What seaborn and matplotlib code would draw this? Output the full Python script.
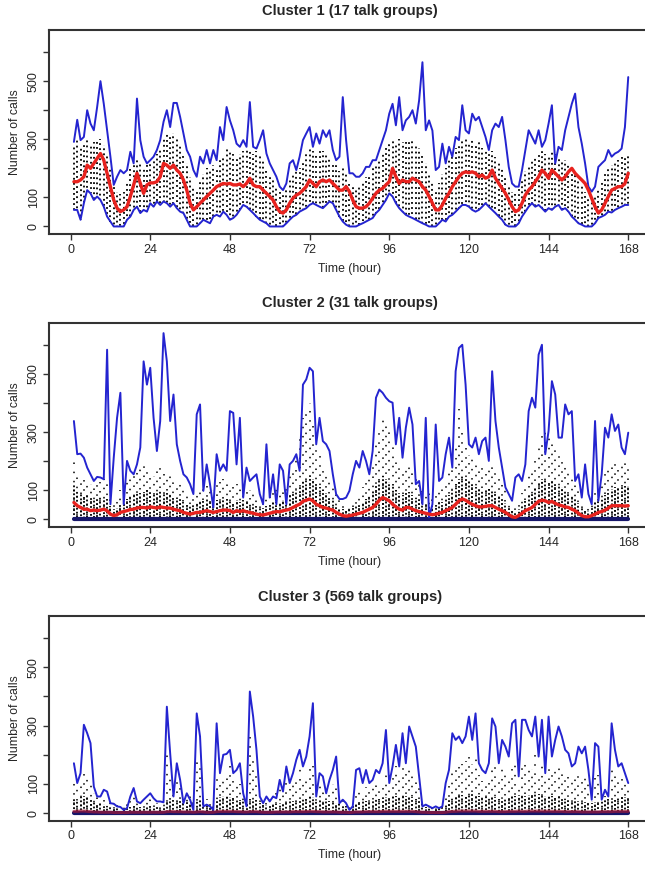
import numpy as np
import pandas as pd
import seaborn as sns
import matplotlib.pyplot as plt

# hours 1..168
hours = np.arange(1, 169)

# ---------------- Cluster 1 (17 talk groups) ----------------
up1 = [291, 367, 297, 308, 400, 354, 331, 411, 500, 422,
       331, 240, 143, 171, 194, 183, 194, 257, 217, 440,
       297, 240, 217, 228, 240, 263, 297, 360, 400, 342,
       425, 425, 377, 320, 263, 240, 194, 171, 240, 217,
       263, 217, 263, 228, 342, 297, 411, 365, 331, 285,
       274, 297, 274, 428, 274, 268, 297, 331, 251, 217,
       194, 171, 137, 125, 148, 217, 228, 194, 240, 297,
       320, 342, 274, 320, 285, 331, 308, 331, 263, 228,
       240, 445, 297, 183, 183, 171, 171, 183, 205, 205,
       228, 228, 263, 297, 331, 388, 422, 348, 445, 331,
       365, 377, 400, 354, 434, 565, 331, 365, 330, 194,
       205, 285, 217, 274, 240, 308, 297, 417, 331, 320,
       388, 365, 377, 342, 308, 263, 331, 354, 342, 377,
       297, 205, 148, 137, 137, 194, 263, 331, 308, 285,
       331, 274, 297, 354, 417, 217, 274, 263, 331, 377,
       422, 457, 342, 285, 217, 137, 120, 137, 205, 217,
       228, 263, 240, 251, 257, 268, 342, 514]
lo1 = [57, 57, 23, 80, 125, 114, 91, 103, 91, 68,
       34, 17, 0, 0, 0, 0, 23, 34, 57, 68,
       46, 57, 51, 80, 68, 86, 74, 86, 80, 68,
       80, 63, 51, 46, 23, 0, 0, 0, 11, 23,
       17, 11, 34, 40, 34, 51, 40, 23, 29, 40,
       57, 74, 68, 57, 46, 34, 23, 17, 11, 0,
       0, 0, 0, 0, 11, 23, 34, 40, 51, 57,
       63, 74, 80, 74, 68, 63, 74, 86, 80, 57,
       34, 17, 6, 0, 0, 0, 6, 11, 17, 23,
       29, 46, 57, 74, 91, 114, 103, 80, 63, 51,
       40, 34, 29, 23, 17, 11, 6, 0, 0, 0,
       11, 23, 17, 34, 40, 51, 63, 74, 74, 68,
       57, 51, 57, 68, 80, 68, 57, 46, 34, 23,
       6, 0, 0, 0, 11, 34, 51, 68, 80, 68,
       74, 63, 51, 63, 57, 68, 74, 57, 63, 51,
       34, 23, 11, 6, 0, 0, 0, 11, 29, 34,
       40, 51, 48, 57, 63, 68, 74, 74]
mean1 = [154, 154, 160, 171, 211, 200, 217, 234, 251, 228,
         183, 137, 91, 63, 51, 57, 68, 103, 143, 183,
         148, 114, 143, 150, 150, 154, 171, 217, 211, 200,
         211, 194, 183, 160, 125, 80, 57, 68, 80, 91,
         103, 114, 125, 137, 143, 148, 146, 148, 143, 143,
         146, 137, 148, 166, 143, 137, 137, 125, 114, 103,
         91, 68, 51, 46, 57, 80, 97, 108, 114, 125,
         137, 160, 148, 137, 154, 160, 154, 160, 148, 137,
         125, 125, 137, 120, 91, 68, 63, 63, 68, 80,
         97, 114, 125, 131, 143, 154, 200, 171, 148, 160,
         154, 154, 166, 160, 154, 137, 125, 103, 80, 57,
         57, 74, 97, 114, 137, 154, 171, 183, 188, 185,
         188, 183, 171, 177, 166, 171, 194, 166, 148, 131,
         114, 91, 68, 51, 57, 80, 108, 125, 137, 154,
         171, 194, 183, 166, 194, 183, 171, 160, 171, 188,
         200, 183, 171, 160, 148, 125, 97, 68, 46, 57,
         80, 103, 125, 131, 137, 137, 148, 183]
dots1 = [280, 300, 270, 290, 300, 280, 290, 300, 300, 280,
         250, 200, 140, 120, 110, 120, 150, 200, 220, 230,
         220, 200, 210, 220, 230, 250, 270, 300, 320, 310,
         320, 300, 280, 250, 220, 170, 140, 130, 160, 180,
         200, 190, 210, 200, 230, 240, 270, 260, 250, 240,
         250, 260, 270, 260, 250, 260, 250, 230, 200, 180,
         160, 140, 120, 110, 130, 160, 180, 190, 200, 230,
         250, 270, 260, 250, 270, 260, 250, 240, 220, 210,
         190, 200, 180, 150, 140, 130, 140, 150, 170, 180,
         200, 210, 230, 250, 270, 290, 300, 280, 300, 290,
         300, 290, 300, 280, 270, 250, 220, 180, 150, 130,
         150, 180, 200, 230, 250, 270, 280, 300, 300, 290,
         300, 280, 290, 270, 260, 250, 260, 240, 220, 200,
         170, 140, 120, 110, 130, 160, 190, 210, 230, 240,
         250, 260, 250, 240, 260, 250, 240, 230, 230, 210,
         200, 180, 160, 140, 120, 100, 90, 100, 130, 160,
         180, 200, 210, 220, 230, 240, 240, 250]

# ---------------- Cluster 2 (31 talk groups) ----------------
up2 = [338, 224, 226, 212, 178, 155, 132, 146, 144, 138,
       583, 52, 212, 349, 435, 52, 201, 167, 155, 189,
       247, 543, 463, 521, 349, 235, 338, 640, 543, 338,
       429, 258, 201, 155, 144, 121, 87, 361, 395, 98,
       189, 121, 41, 224, 167, 189, 167, 372, 366, 189,
       349, 75, 178, 132, 144, 155, 87, 52, 258, 75,
       155, 52, 189, 167, 52, 189, 201, 224, 167, 463,
       481, 521, 509, 258, 349, 269, 258, 235, 155, 87,
       70, 70, 75, 98, 155, 201, 178, 235, 201, 155,
       235, 418, 446, 435, 418, 406, 401, 258, 349, 212,
       315, 384, 326, 121, 132, 52, 349, 7, 52, 326,
       132, 144, 224, 281, 178, 509, 589, 600, 463, 258,
       247, 281, 224, 269, 281, 201, 509, 338, 247, 178,
       110, 87, 64, 144, 155, 132, 189, 372, 418, 384,
       566, 600, 224, 304, 475, 429, 281, 281, 395, 361,
       372, 132, 155, 75, 189, 87, 52, 338, 64, 155,
       315, 281, 361, 304, 326, 247, 224, 298]
lo2 = [0] * 168
mean2 = [58, 47, 41, 35, 35, 30, 32, 30, 32, 35,
         30, 18, 13, 16, 24, 27, 30, 34, 35, 39,
         41, 41, 39, 43, 41, 39, 43, 41, 39, 39,
         35, 32, 30, 24, 21, 18, 21, 24, 24, 27,
         30, 27, 24, 27, 30, 32, 32, 30, 24, 30,
         27, 30, 26, 24, 21, 18, 16, 15, 18, 21,
         24, 27, 26, 30, 32, 35, 41, 47, 52, 62,
         66, 70, 64, 52, 47, 41, 39, 35, 32, 24,
         18, 13, 11, 13, 15, 18, 21, 24, 30, 35,
         41, 52, 66, 75, 70, 64, 52, 43, 35, 32,
         41, 41, 35, 30, 27, 24, 21, 18, 16, 18,
         21, 24, 30, 35, 41, 52, 64, 70, 66, 58,
         52, 47, 43, 43, 45, 47, 47, 41, 35, 30,
         24, 16, 9, 7, 13, 21, 30, 35, 41, 52,
         62, 66, 64, 58, 62, 55, 50, 47, 43, 41,
         35, 30, 21, 13, 9, 9, 13, 18, 24, 27,
         32, 39, 47, 47, 47, 47, 46, 47]
dense2 = [120, 100, 90, 85, 80, 75, 70, 75, 80, 75,
          70, 45, 35, 40, 55, 60, 70, 80, 85, 90,
          90, 95, 100, 95, 90, 95, 100, 95, 90, 85,
          80, 75, 70, 60, 50, 45, 50, 55, 60, 65,
          70, 65, 60, 65, 70, 75, 70, 65, 60, 65,
          60, 65, 60, 55, 50, 45, 40, 40, 45, 50,
          55, 60, 60, 65, 70, 80, 90, 100, 110, 130,
          140, 150, 140, 120, 110, 100, 90, 80, 65, 50,
          40, 35, 30, 35, 40, 45, 50, 60, 70, 85,
          100, 120, 140, 150, 140, 130, 120, 100, 90, 85,
          90, 95, 85, 75, 70, 60, 55, 50, 45, 50,
          55, 60, 70, 85, 100, 120, 140, 150, 140, 130,
          120, 110, 105, 100, 100, 105, 100, 95, 85, 70,
          55, 40, 30, 25, 35, 50, 65, 80, 95, 110,
          130, 140, 135, 130, 135, 125, 115, 110, 100, 95,
          85, 70, 55, 40, 30, 30, 40, 55, 65, 75,
          85, 95, 105, 110, 110, 110, 115, 115]
sparse2 = [200, 160, 150, 140, 130, 120, 110, 120, 130, 140,
           120, 70, 60, 80, 100, 110, 130, 150, 160, 170,
           180, 190, 170, 160, 150, 170, 200, 180, 160, 150,
           140, 130, 120, 100, 90, 80, 90, 100, 110, 120,
           130, 120, 100, 120, 130, 140, 130, 120, 110, 120,
           110, 120, 110, 100, 90, 80, 70, 70, 80, 90,
           100, 110, 100, 110, 130, 150, 180, 220, 280, 350,
           380, 400, 330, 250, 220, 190, 170, 150, 120, 90,
           70, 60, 50, 60, 70, 80, 90, 110, 130, 160,
           200, 260, 300, 340, 320, 300, 260, 220, 190, 170,
           180, 190, 170, 150, 130, 110, 100, 90, 80, 90,
           100, 110, 130, 160, 200, 260, 380, 300, 260, 220,
           210, 200, 190, 180, 180, 190, 180, 170, 150, 120,
           100, 70, 50, 45, 60, 90, 120, 150, 180, 220,
           260, 300, 320, 280, 260, 250, 230, 210, 190, 170,
           150, 120, 100, 70, 50, 50, 70, 100, 120, 140,
           160, 180, 200, 190, 180, 190, 200, 190]

# ---------------- Cluster 3 (569 talk groups) ----------------
up3 = [171, 103, 137, 303, 274, 240, 91, 57, 57, 80,
       74, 34, 32, 23, 21, 11, 17, 57, 86, 40,
       34, 46, 57, 68, 51, 40, 40, 37, 365, 205,
       57, 171, 114, 34, 68, 46, 11, 342, 263, 23,
       29, 23, 11, 308, 137, 200, 203, 217, 137, 148,
       171, 68, 23, 417, 331, 217, 57, 34, 57, 40,
       57, 51, 114, 74, 160, 103, 137, 183, 217, 160,
       194, 263, 377, 57, 137, 126, 68, 114, 148, 194,
       34, 46, 34, 11, 23, 148, 154, 103, 148, 103,
       114, 148, 137, 171, 285, 103, 160, 234, 160, 274,
       171, 297, 263, 228, 126, 23, 29, 23, 17, 23,
       17, 23, 103, 148, 274, 251, 263, 240, 263, 331,
       251, 342, 171, 148, 137, 171, 325, 297, 171, 251,
       228, 194, 308, 320, 126, 320, 320, 285, 263, 331,
       194, 320, 137, 331, 194, 251, 297, 263, 217, 205,
       160, 171, 228, 205, 228, 148, 46, 240, 228, 46,
       80, 57, 308, 217, 160, 171, 137, 103]
lo3 = [0] * 168
mean3 = [6, 6, 7, 7, 6, 5, 4, 4, 3, 3,
         3, 3, 2, 2, 2, 2, 2, 3, 3, 3,
         3, 3, 3, 3, 3, 3, 3, 3, 5, 6,
         5, 5, 5, 4, 4, 4, 3, 4, 5, 4,
         3, 3, 3, 5, 6, 6, 6, 6, 6, 5,
         5, 4, 4, 5, 5, 5, 4, 3, 3, 3,
         3, 4, 4, 4, 4, 4, 5, 5, 5, 5,
         5, 6, 6, 5, 5, 4, 4, 4, 4, 4,
         3, 3, 3, 2, 3, 4, 4, 4, 5, 5,
         5, 5, 5, 6, 6, 6, 6, 6, 6, 6,
         6, 6, 6, 5, 4, 3, 3, 2, 2, 2,
         2, 2, 3, 5, 6, 6, 7, 7, 7, 7,
         7, 7, 6, 6, 6, 6, 6, 6, 5, 5,
         5, 6, 6, 6, 7, 6, 6, 7, 7, 7,
         7, 7, 6, 7, 6, 6, 6, 6, 5, 5,
         5, 5, 5, 4, 4, 4, 4, 4, 4, 5,
         5, 5, 5, 6, 6, 6, 6, 6]
dense3 = [50, 45, 55, 60, 55, 50, 40, 35, 30, 30,
          25, 25, 20, 18, 15, 15, 18, 22, 25, 22,
          20, 22, 25, 25, 22, 20, 22, 25, 45, 50,
          45, 45, 45, 40, 40, 35, 30, 40, 45, 35,
          30, 25, 25, 45, 55, 60, 60, 55, 55, 50,
          45, 40, 35, 50, 50, 45, 35, 30, 28, 28,
          30, 32, 35, 35, 40, 40, 42, 45, 45, 50,
          50, 55, 55, 45, 45, 40, 40, 40, 38, 35,
          30, 28, 25, 22, 25, 35, 40, 40, 42, 45,
          45, 48, 50, 52, 55, 55, 55, 58, 60, 60,
          58, 58, 55, 50, 40, 30, 22, 20, 18, 18,
          18, 20, 30, 45, 55, 60, 62, 62, 62, 65,
          65, 62, 60, 58, 55, 55, 55, 55, 50, 50,
          50, 55, 58, 60, 62, 60, 60, 62, 62, 65,
          65, 62, 60, 62, 60, 58, 55, 55, 50, 48,
          45, 45, 42, 40, 38, 35, 35, 38, 40, 42,
          45, 48, 50, 52, 55, 55, 55, 55]
sparse3 = [120, 90, 110, 150, 130, 100, 70, 60, 55, 55,
           50, 40, 35, 30, 25, 22, 30, 50, 60, 35,
           30, 40, 50, 50, 40, 35, 35, 40, 200, 130,
           80, 120, 90, 60, 70, 60, 40, 200, 160, 60,
           50, 40, 30, 120, 100, 110, 130, 160, 110, 110,
           100, 60, 40, 260, 200, 140, 70, 50, 60, 55,
           70, 80, 90, 80, 110, 90, 110, 120, 150, 120,
           130, 150, 160, 70, 100, 90, 70, 80, 100, 110,
           40, 40, 30, 20, 25, 80, 90, 70, 90, 80,
           90, 100, 90, 110, 150, 90, 120, 160, 130, 170,
           140, 160, 150, 130, 100, 40, 30, 25, 20, 20,
           20, 25, 70, 100, 160, 170, 180, 170, 180, 210,
           170, 200, 130, 110, 100, 120, 170, 160, 120, 150,
           140, 130, 160, 170, 100, 170, 180, 160, 150, 200,
           130, 180, 110, 170, 130, 150, 160, 150, 130, 130,
           110, 120, 130, 130, 130, 100, 40, 140, 130, 40,
           60, 50, 160, 130, 110, 120, 100, 80]

titles = ["Cluster 1 (17 talk groups)", "Cluster 2 (31 talk groups)",
          "Cluster 3 (569 talk groups)"]
xticks = [0, 24, 48, 72, 96, 120, 144, 168]
yticks = [0, 100, 200, 300, 400, 500, 600]
yticklabels = ["0", "100", "", "300", "", "500", ""]

sns.set_style("ticks")
plt.rcParams['font.family'] = ['Liberation Sans', 'DejaVu Sans']

BLUE = '#2424d0'
RED = '#e8221e'


def dotted(on, off, n):
    # scramble the dash phase between columns so the dots do not line up
    period = on + off
    return [(((k * 7919) % 97) / 97.0 * period, (on, off)) for k in range(n)]


fig = plt.figure(figsize=(6.45, 8.69), dpi=100)
boxes = [(0.0765, 0.7307, 0.932, 0.2348),
         (0.0765, 0.3936, 0.932, 0.2351),
         (0.0765, 0.0556, 0.932, 0.2355)]

panels = [
    (up1, lo1, mean1, dots1, None),
    (up2, lo2, mean2, dense2, sparse2),
    (up3, lo3, mean3, dense3, sparse3),
]

for i, (box, (up, lo, mean, dense, sparse)) in enumerate(zip(boxes, panels)):
    ax = fig.add_axes(box)
    df = pd.DataFrame({'hour': hours, 'up': up, 'lo': lo, 'mean': mean})

    # individual talk-group values (dotted columns)
    if sparse is not None:
        ax.vlines(hours, 0, sparse, colors='black', linewidth=1.1,
                  linestyles=dotted(1, 5, len(hours)))
        ax.vlines(hours, 0, dense, colors='black', linewidth=1.3,
                  linestyles=dotted(1, 1.2, len(hours)))
    else:
        ax.vlines(hours, lo, dense, colors='black', linewidth=1.3,
                  linestyles=dotted(1, 1.8, len(hours)))

    if i == 0:
        sns.lineplot(data=df, x='hour', y='lo', ax=ax, color=BLUE, linewidth=1.4)
    else:
        sns.lineplot(data=df, x='hour', y='lo', ax=ax, color='#16166a', linewidth=3)
    sns.lineplot(data=df, x='hour', y='up', ax=ax, color=BLUE, linewidth=1.4)
    if i == 2:
        sns.lineplot(data=df, x='hour', y='mean', ax=ax, color='#a01838',
                     linewidth=2.2, alpha=0.7)
    else:
        sns.lineplot(data=df, x='hour', y='mean', ax=ax, color=RED, linewidth=2.4)

    ax.set_xlim(-6.4, 174.7)
    ax.set_ylim(-26, 676)
    ax.set_xticks(xticks)
    ax.set_xticklabels([str(t) for t in xticks], fontsize=9)
    ax.set_yticks(yticks)
    ax.set_yticklabels(yticklabels, fontsize=9, rotation=90, va='center')
    ax.tick_params(direction='out', length=4, width=1, color='#333333', pad=3)
    for s in ax.spines.values():
        s.set_color('#333333')
        s.set_linewidth(1.5)
    ax.set_title(titles[i], fontsize=10.5, fontweight='bold', pad=11)
    ax.set_xlabel('Time (hour)', fontsize=8.8, labelpad=5)
    ax.set_ylabel('Number of calls', fontsize=8.8, labelpad=5)

fig.savefig('out.png', dpi=100)
